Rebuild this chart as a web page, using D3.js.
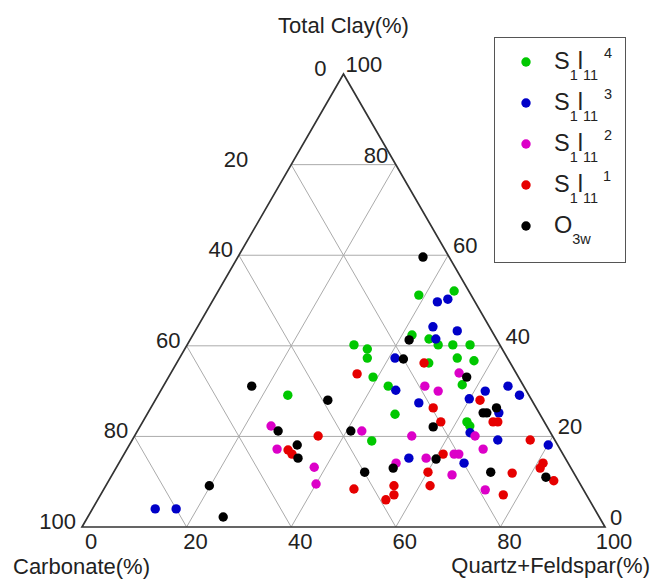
<!DOCTYPE html>
<html>
<head>
<meta charset="utf-8">
<script src="https://cdn.jsdelivr.net/npm/d3@7"></script>
<style>
  html, body { margin: 0; padding: 0; background: #fff; }
  svg { display: block; font-family: "Liberation Sans", Arial, sans-serif; }
</style>
</head>
<body>
<svg id="chart" width="657" height="584"></svg>
<script>
// Ternary composition: Quartz+Feldspar, Total Clay, Carbonate (= 100 - both)
const gridLevels = [20, 40, 60, 80];
const bottomTicks = [0, 20, 40, 60, 80, 100];   // Quartz+Feldspar
const leftTicks = [0, 20, 40, 60, 80, 100];     // Carbonate
const rightTicks = [0, 20, 40, 60, 80, 100];    // Total Clay

// S1l11-4
const s4Quartz = [38.8, 45.1, 41.9, 45.6, 48.0, 50.8, 54.1, 31.9, 34.9, 35.9, 39.1, 43.0, 53.1, 56.6, 48.2, 57.0, 47.4, 62.0, 63.0, 45.9, 24.8];
const s4Clay   = [51.2, 52.1, 42.4, 41.5, 40.2, 40.2, 40.2, 40.2, 39.3, 37.3, 33.1, 31.1, 37.3, 36.7, 36.2, 31.4, 24.9, 23.2, 22.3, 19.0, 29.1];
// S1l11-3
const s3Quartz = [43.1, 44.8, 45.0, 50.1, 46.9, 41.2, 44.9, 50.7, 59.9, 62.1, 65.9, 69.1, 67.1, 63.8, 69.9, 80.1, 54.9, 66.0, 12.0, 16.0];
const s3Clay   = [49.7, 50.3, 44.2, 43.3, 41.5, 37.3, 30.2, 27.4, 28.3, 30.0, 31.1, 29.1, 25.2, 20.8, 19.2, 18.1, 15.2, 14.1, 4.0, 4.0];
// S1l11-2
const s2Quartz = [55.1, 50.0, 53.1, 42.9, 53.0, 65.1, 68.1, 58.2, 63.1, 64.0, 53.0, 65.0, 73.0, 25.0, 28.7, 37.8, 40.0];
const s2Clay   = [34.0, 31.1, 30.0, 21.2, 20.1, 20.1, 17.2, 15.2, 16.1, 16.1, 14.1, 11.5, 8.2, 22.3, 17.2, 13.2, 9.5];
// S1l11-1
const s1Quartz = [35.7, 47.3, 62.1, 54.0, 57.0, 67.0, 67.9, 76.1, 61.0, 35.1, 30.9, 32.1, 60.1, 62.0, 47.8, 55.1, 56.1, 55.1, 76.3, 77.0, 81.1, 81.1, 85.1];
const s1Clay   = [33.8, 36.2, 28.0, 26.3, 23.2, 23.2, 23.2, 19.2, 16.1, 20.1, 17.0, 16.1, 12.1, 9.1, 8.4, 9.1, 7.1, 6.0, 11.9, 7.1, 13.0, 14.1, 10.2];
// O3w
const o3Quartz = [35.4, 41.9, 42.9, 16.9, 57.0, 33.0, 26.9, 32.1, 33.7, 40.8, 19.8, 25.9, 48.0, 53.0, 56.1, 60.2, 64.1, 64.8, 66.1, 72.1, 83.2];
const o3Clay   = [59.6, 41.3, 37.1, 31.1, 33.1, 28.0, 21.2, 18.1, 15.2, 21.2, 9.1, 2.2, 12.1, 13.0, 22.1, 15.0, 25.2, 25.2, 26.3, 12.1, 11.0];

const seriesColors = ["#00c800", "#0000c8", "#dc00c8", "#e60000", "#000000"];
// legend label pieces: [text, "base" | "sub" | "sup"]
const seriesLabels = [
  [["S", "base"], ["1", "sub"], ["l", "base"], ["11", "sub"], ["4", "sup"]],
  [["S", "base"], ["1", "sub"], ["l", "base"], ["11", "sub"], ["3", "sup"]],
  [["S", "base"], ["1", "sub"], ["l", "base"], ["11", "sub"], ["2", "sup"]],
  [["S", "base"], ["1", "sub"], ["l", "base"], ["11", "sub"], ["1", "sup"]],
  [["O", "base"], ["3w", "sub"]]
];

const series = [
  { q: s4Quartz, c: s4Clay },
  { q: s3Quartz, c: s3Clay },
  { q: s2Quartz, c: s2Clay },
  { q: s1Quartz, c: s1Clay },
  { q: o3Quartz, c: o3Clay }
].map((s, i) => ({
  color: seriesColors[i],
  label: seriesLabels[i],
  points: s.q.map((q, j) => ({ quartz: q, clay: s.c[j], carbonate: 100 - q - s.c[j] }))
}));

const svg = d3.select("#chart");

// Triangle frame: base from (82,527) to (605,527), apex above the middle
const x0 = 82, x1 = 605, yBase = 527;
const side = x1 - x0;
const height = side * Math.sqrt(3) / 2;
const xScale = d3.scaleLinear().domain([0, 100]).range([x0, x1]);
const yScale = d3.scaleLinear().domain([0, 100]).range([yBase, yBase - height]);

// project (quartz, clay) to screen
const px = (q, c) => xScale(q + c / 2);
const py = (q, c) => yScale(c);

const line = d3.line().x(d => px(d[0], d[1])).y(d => py(d[0], d[1]));

// grid
const grid = svg.append("g").attr("fill", "none").attr("stroke", "#ababab").attr("stroke-width", 1);
gridLevels.forEach(v => {
  grid.append("path").attr("d", line([[0, v], [100 - v, v]]));          // constant clay
  grid.append("path").attr("d", line([[v, 0], [v, 100 - v]]));          // constant quartz
  grid.append("path").attr("d", line([[100 - v, 0], [0, 100 - v]]));    // constant carbonate
});

// frame
svg.append("path")
  .attr("d", line([[0, 0], [100, 0], [0, 100]]) + "Z")
  .attr("fill", "none").attr("stroke", "#333").attr("stroke-width", 1.7)
  .attr("stroke-linejoin", "miter");

const tickFont = 22;
const labels = svg.append("g").attr("font-size", tickFont).attr("fill", "#222");
// the labels on the 80% clay row sit further left than the others
const rowShift = c => (c === 80 ? -37 : 0);

// bottom: Quartz+Feldspar
labels.selectAll(".tb").data(bottomTicks).join("text")
  .attr("x", d => px(d, 0) + 9)
  .attr("y", yBase + 22)
  .attr("text-anchor", "middle")
  .text(d => d);

// left: Carbonate
labels.selectAll(".tl").data(leftTicks).join("text")
  .attr("x", d => px(0, 100 - d) - (d === 0 ? 17 : 6) + rowShift(100 - d))
  .attr("y", d => py(0, 100 - d) + 2)
  .attr("text-anchor", "end")
  .text(d => d);

// right: Total Clay
labels.selectAll(".tr").data(rightTicks).join("text")
  .attr("x", d => px(100 - d, d) + (d === 100 ? 2 : 5) + rowShift(d))
  .attr("y", d => py(100 - d, d) - 2)
  .attr("text-anchor", "start")
  .text(d => d);

// axis titles
svg.append("text").attr("x", px(0, 100)).attr("y", 33).attr("text-anchor", "middle")
  .attr("font-size", 22).attr("fill", "#222").text("Total Clay(%)");
svg.append("text").attr("x", 13).attr("y", 574).attr("text-anchor", "start")
  .attr("font-size", 22).attr("fill", "#222").text("Carbonate(%)");
svg.append("text").attr("x", 650).attr("y", 573).attr("text-anchor", "end")
  .attr("font-size", 22).attr("fill", "#222").text("Quartz+Feldspar(%)");

// points
series.forEach(s => {
  svg.append("g").selectAll("circle").data(s.points).join("circle")
    .attr("cx", d => px(d.quartz, d.clay))
    .attr("cy", d => py(d.quartz, d.clay))
    .attr("r", 4.7)
    .attr("fill", s.color);
});

// legend
const legend = svg.append("g");
legend.append("rect").attr("x", 494.5).attr("y", 37.5).attr("width", 131).attr("height", 225)
  .attr("fill", "#fff").attr("stroke", "#555").attr("stroke-width", 1);
const legendY = d3.scalePoint().domain(d3.range(series.length)).range([62, 226]);
series.forEach((s, i) => {
  const y = legendY(i);
  legend.append("circle").attr("cx", 526).attr("cy", y).attr("r", 4.7).attr("fill", s.color);
  const t = legend.append("text").attr("x", 554).attr("y", y + 7).attr("fill", "#222").attr("font-size", 23.5);
  let level = 0;
  s.label.forEach(([txt, kind]) => {
    const target = kind === "sub" ? 11 : kind === "sup" ? -11 : 0;
    const ts = t.append("tspan").attr("dy", target - level)
      .attr("font-size", kind === "base" ? 23.5 : 14.5).text(txt);
    if (kind === "sup") ts.attr("dx", 6);
    level = target;
  });
});
</script>
</body>
</html>
